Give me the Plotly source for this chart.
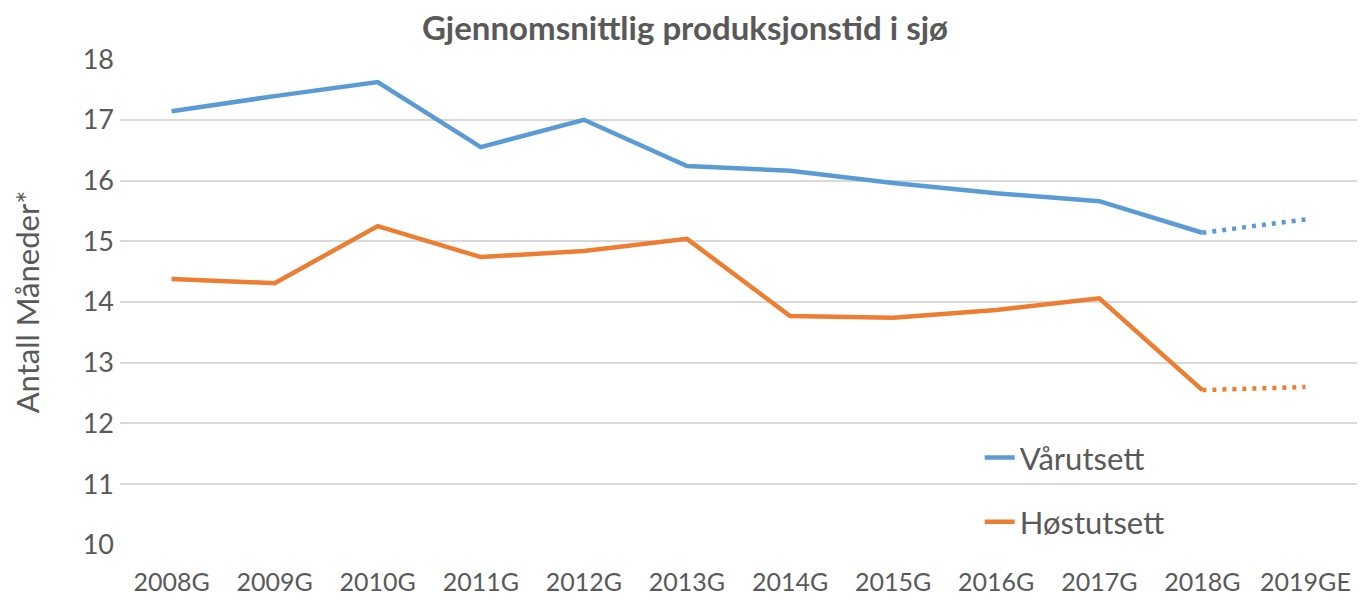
import plotly.graph_objects as go

YEARS = ["2008G", "2009G", "2010G", "2011G", "2012G", "2013G",
         "2014G", "2015G", "2016G", "2017G", "2018G", "2019GE"]

VAR = [17.14, 17.39, 17.62, 16.55, 17.00, 16.24, 16.16, 15.96, 15.79, 15.66, 15.14, None]
VAR_EST = [None] * 10 + [15.14, 15.36]

HOST = [14.38, 14.31, 15.25, 14.74, 14.84, 15.04, 13.77, 13.74, 13.87, 14.06, 12.55, None]
HOST_EST = [None] * 10 + [12.55, 12.60]

BLUE = "#5B9BD5"
ORANGE = "#ED7D31"
GREY = "#595959"
FONT = "Lato"

fig = go.Figure()
fig.add_trace(go.Scatter(x=YEARS, y=VAR, mode="lines", name="Vårutsett",
                         legendgroup="v", line=dict(color=BLUE, width=4.5)))
fig.add_trace(go.Scatter(x=YEARS, y=VAR_EST, mode="lines", showlegend=False,
                         legendgroup="v", line=dict(color=BLUE, width=4.5, dash="4px,6px")))
fig.add_trace(go.Scatter(x=YEARS, y=HOST, mode="lines", name="Høstutsett",
                         legendgroup="h", line=dict(color=ORANGE, width=4.5)))
fig.add_trace(go.Scatter(x=YEARS, y=HOST_EST, mode="lines", showlegend=False,
                         legendgroup="h", line=dict(color=ORANGE, width=4.5, dash="4px,6px")))

# page body has an 8px margin, so the figure is a bit smaller than the window
fig.update_layout(
    width=1354, height=589,
    margin=dict(l=112, r=5, t=51, b=52, autoexpand=False),
    plot_bgcolor="white", paper_bgcolor="white",
    font=dict(family=FONT, color=GREY),
    title=dict(text="<b>Gjennomsnittlig produksjonstid i sjø</b>", x=0.5, xanchor="center",
               y=0.966, yanchor="middle", font=dict(size=33, color=GREY)),
    legend=dict(x=0.695, y=0.235, xanchor="left", yanchor="top", font=dict(size=31, color=GREY),
                tracegroupgap=21, bgcolor="rgba(0,0,0,0)"),
)
fig.update_xaxes(type="category", range=[-0.5, 11.5], showgrid=False, showline=False,
                 ticks="", tickfont=dict(size=25, color=GREY), ticklabelstandoff=20,
                 automargin=False)
fig.update_yaxes(range=[9.999, 18.001], dtick=1, tick0=10, showgrid=True, gridcolor="#D9D9D9",
                 gridwidth=1.5, zeroline=False, showline=False, ticks="",
                 tickfont=dict(size=27, color=GREY), ticklabelstandoff=5, automargin=False,
                 title=dict(text="Antall Måneder*", font=dict(size=31, color=GREY), standoff=36))

fig.write_html("out.html")
